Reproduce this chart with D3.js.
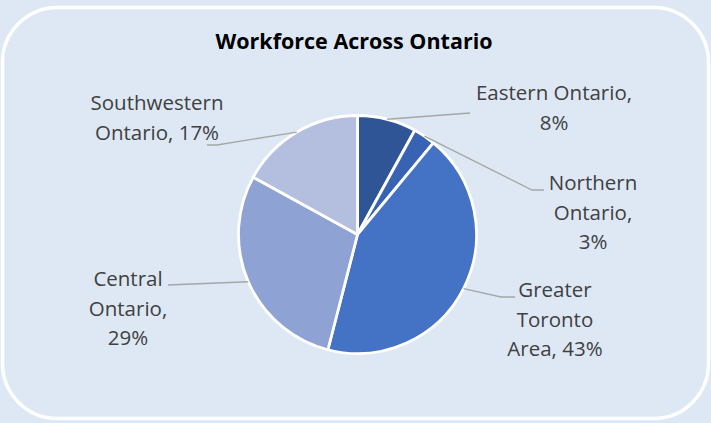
<!DOCTYPE html>
<html lang="en">
<head>
    <meta charset="UTF-8">
    <title>Workforce Across Ontario</title>
    <script src="https://d3js.org/d3.v7.min.js"></script>
    <style>
        html, body {
            margin: 0;
            padding: 0;
            background: #dee8f5;
        }
        body {
            font-family: "Open Sans", Arial, sans-serif;
        }
    </style>
</head>
<body>
    <div id="chart"></div>
    <script>
        // data
        const categories = ["Eastern Ontario", "Northern Ontario", "Greater Toronto Area", "Central Ontario", "Southwestern Ontario"];
        const shares = [8, 3, 43, 29, 17];
        const colors = ["#2f5597", "#3862b2", "#4472c4", "#8fa2d4", "#b4bfe0"];

        // label placement (words per line, anchor, leader elbow points)
        const labelLayout = [
            { wrap: [2, 1], x: 554, y: 100, leader: [[470, 113]] },
            { wrap: [1, 1, 1], x: 593, y: 190, leader: [[532, 190], [544, 190]] },
            { wrap: [1, 1, 2], x: 555, y: 297, leader: [[501, 297], [515, 297]] },
            { wrap: [1, 1, 1], x: 128, y: 286, leader: [[168, 285]] },
            { wrap: [1, 2], x: 157, y: 110, leader: [[217, 145], [207, 145]] }
        ];

        const width = 711, height = 423;
        const cx = 357.5, cy = 234.5, radius = 119;
        const lineHeight = 29.5;

        const svg = d3.select("#chart")
            .append("svg")
            .attr("width", width)
            .attr("height", height);

        svg.append("rect")
            .attr("x", 2.5)
            .attr("y", 7.5)
            .attr("width", 706)
            .attr("height", 411)
            .attr("rx", 55)
            .attr("fill", "#dee8f5")
            .attr("stroke", "#ffffff")
            .attr("stroke-width", 3.5);

        svg.append("text")
            .attr("x", 354)
            .attr("y", 49)
            .attr("text-anchor", "middle")
            .attr("font-weight", "bold")
            .attr("font-size", 21.5)
            .attr("fill", "#000")
            .text("Workforce Across Ontario");

        const data = categories.map((c, i) => ({ name: c, value: shares[i], color: colors[i], layout: labelLayout[i] }));

        const pie = d3.pie().sort(null).value(d => d.value);
        const arcs = pie(data);

        const arc = d3.arc().innerRadius(0).outerRadius(radius);
        const edgeArc = d3.arc().innerRadius(radius).outerRadius(radius);

        const g = svg.append("g").attr("transform", `translate(${cx},${cy})`);

        g.selectAll("path.slice")
            .data(arcs)
            .enter()
            .append("path")
            .attr("class", "slice")
            .attr("d", arc)
            .attr("fill", d => d.data.color)
            .attr("stroke", "#ffffff")
            .attr("stroke-width", 2.8)
            .attr("stroke-linejoin", "round");

        // leader lines from the slice edge to the labels
        svg.selectAll("polyline.leader")
            .data(arcs)
            .enter()
            .append("polyline")
            .attr("class", "leader")
            .attr("points", d => {
                const [ex, ey] = edgeArc.centroid(d);
                return [[cx + ex, cy + ey]].concat(d.data.layout.leader).map(p => p.join(",")).join(" ");
            })
            .attr("fill", "none")
            .attr("stroke", "#a6a6a6")
            .attr("stroke-width", 1.3);

        // labels: "Name, NN%" wrapped into lines
        arcs.forEach(d => {
            const words = `${d.data.name}, ${d.data.value}%`.split(" ");
            const lines = [];
            let k = 0;
            d.data.layout.wrap.forEach(n => {
                lines.push(words.slice(k, k + n).join(" "));
                k += n;
            });
            const t = svg.append("text")
                .attr("text-anchor", "middle")
                .attr("font-size", 20.5)
                .attr("fill", "#404040");
            lines.forEach((ln, i) => {
                t.append("tspan")
                    .attr("x", d.data.layout.x)
                    .attr("y", d.data.layout.y + i * lineHeight)
                    .text(ln);
            });
        });
    </script>
</body>
</html>
